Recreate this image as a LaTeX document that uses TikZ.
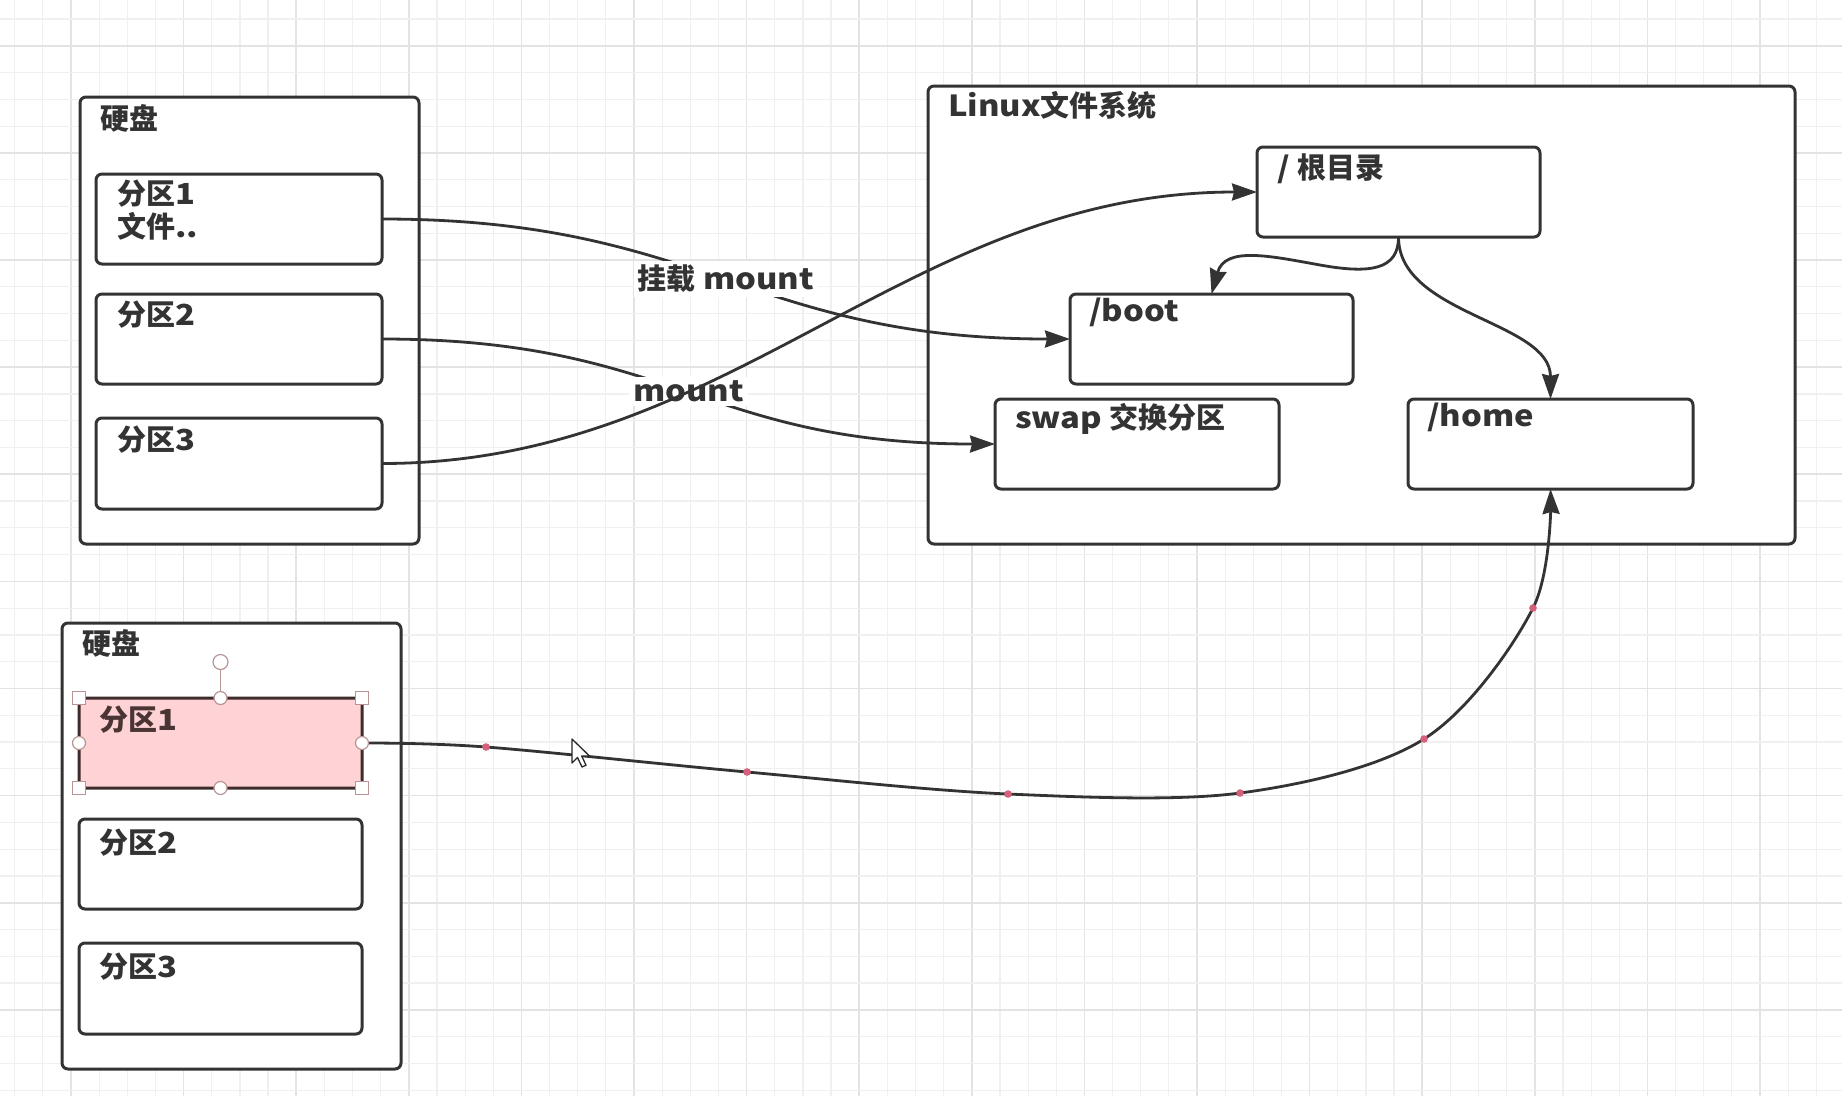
\documentclass[tikz,border=0pt]{standalone}
\usepackage{fontspec}
\setmainfont{Noto Sans CJK SC}[FakeStretch=1.13]
\newfontfamily\cjk{Noto Sans CJK SC}
\usetikzlibrary{arrows.meta,calc}
\definecolor{ink}{HTML}{333333}
\definecolor{gridminor}{HTML}{F0F0F0}
\definecolor{gridmajor}{HTML}{E3E3E3}
\definecolor{pinkfill}{HTML}{FFD2D5}
\definecolor{pinkline}{HTML}{3E2C2C}
\definecolor{pinktext}{HTML}{4A3434}
\definecolor{handle}{HTML}{B89494}
\definecolor{waypt}{HTML}{D4607C}
\begin{document}
\begin{tikzpicture}[x=1pt,y=-1pt,
  box/.style={draw=ink, line width=3pt, rounded corners=6pt, fill=white, inner sep=0pt, outer sep=0pt, anchor=north west},
  txt/.style={anchor=north west, inner sep=0pt, text=ink, font=\fontsize{29}{33}\selectfont\bfseries, align=left},
  conn/.style={draw=ink, line width=2.8pt, -{Stealth[length=25pt,width=17pt,inset=2pt]}},
  elabel/.style={fill=white, inner sep=4pt, text=ink, font=\fontsize{29}{33}\selectfont\bfseries},
  hsq/.style={draw=handle, fill=white, line width=1.2pt, minimum size=13pt, inner sep=0pt},
  hci/.style={draw=handle, fill=white, line width=1.2pt, circle, minimum size=13pt, inner sep=0pt},
  wdot/.style={fill=waypt}
]
\useasboundingbox (0,0) rectangle (1842,1096);
\fill[white] (0,0) rectangle (1842,1096);
% grid
\foreach \i in {-2,...,63} {
  \pgfmathsetmacro\gx{71+28.15*\i}
  \pgfmathtruncatemacro\m{mod(\i+40,4)}
  \ifnum\m=0
    \draw[gridmajor, line width=1.6pt] (\gx,0) -- (\gx,1096);
  \else
    \draw[gridminor, line width=1.2pt] (\gx,0) -- (\gx,1096);
  \fi
}
\foreach \k in {0,...,41} {
  \pgfmathsetmacro\gy{19+26.78*\k}
  \pgfmathtruncatemacro\m{mod(\k+40,4)}
  \ifnum\m=1
    \draw[gridmajor, line width=1.6pt] (0,\gy) -- (1842,\gy);
  \else
    \draw[gridminor, line width=1.2pt] (0,\gy) -- (1842,\gy);
  \fi
}

% top disk
\node[box, minimum width=339pt, minimum height=447pt] (disk1) at (80,97) {};
\node[txt] (disk1t) at ($(disk1.north west)+(20,7)$) {{\cjk 硬盘}};
\node[box, minimum width=286pt, minimum height=90pt] (d1p1) at (96,174) {};
\node[txt] (d1p1t) at ($(d1p1.north west)+(21,6)$) {{\cjk 分区}1\\{\cjk 文件}..};
\node[box, minimum width=286pt, minimum height=90pt] (d1p2) at (96,294) {};
\node[txt] (d1p2t) at ($(d1p2.north west)+(21,7)$) {{\cjk 分区}2};
\node[box, minimum width=286pt, minimum height=91pt] (d1p3) at (96,418) {};
\node[txt] (d1p3t) at ($(d1p3.north west)+(21,8)$) {{\cjk 分区}3};

% linux fs
\node[box, minimum width=867pt, minimum height=458pt] (linux) at (928,86) {};
\node[txt] (linuxt) at ($(linux.north west)+(20,5)$) {Linux{\cjk 文件系统}};
\node[box, minimum width=283pt, minimum height=90pt] (root) at (1257,147) {};
\node[txt] (roott) at ($(root.north west)+(20,6)$) {/ {\cjk 根目录}};
\node[box, minimum width=283pt, minimum height=90pt] (boot) at (1070,294) {};
\node[txt] (boott) at ($(boot.north west)+(19,4)$) {/boot};
\node[box, minimum width=284pt, minimum height=90pt] (swap) at (995,399) {};
\node[txt] (swapt) at ($(swap.north west)+(20,4)$) {swap {\cjk 交换分区}};
\node[box, minimum width=285pt, minimum height=90pt] (home) at (1408,399) {};
\node[txt] (homet) at ($(home.north west)+(19,4)$) {/home};

% connectors top
\draw[conn] (d1p1.east) .. controls +(320,0) and +(-320,0) .. node[elabel, pos=0.5] (lab1) {{\cjk 挂载} mount} (boot.west);
\draw[conn] (d1p2.east) .. controls +(290,0) and +(-290,0) .. node[elabel, pos=0.5] (lab2) {mount} (swap.west);
\draw[conn] (d1p3.east) .. controls +(350,0) and +(-350,0) .. (root.west);
\coordinate (bend) at (1320,265);
\draw[conn] (root.south) .. controls +(0,33) and (1370,274) .. (bend) .. controls (1270,256) and (1225,246) .. (boot.north);
\draw[conn] (root.south) .. controls +(0,78) and +(0,-78) .. (home.north);

% bottom disk
\node[box, minimum width=339pt, minimum height=446pt] (disk2) at (62,623) {};
\node[txt] (disk2t) at ($(disk2.north west)+(20,6)$) {{\cjk 硬盘}};
\node[draw=pinkline, fill=pinkfill, line width=3pt, rounded corners=1.5pt, inner sep=0pt, outer sep=0pt, anchor=north west, minimum width=283pt, minimum height=90pt] (d2p1) at (79,698) {};
\node[txt, text=pinktext] (d2p1t) at ($(d2p1.north west)+(20,8)$) {{\cjk 分区}1};
\node[box, minimum width=283pt, minimum height=90pt] (d2p2) at (79,819) {};
\node[txt] (d2p2t) at ($(d2p2.north west)+(20,10)$) {{\cjk 分区}2};
\node[box, minimum width=283pt, minimum height=91pt] (d2p3) at (79,943) {};
\node[txt] (d2p3t) at ($(d2p3.north west)+(20,10)$) {{\cjk 分区}3};

% bottom connector with waypoints
\coordinate (w1) at (486,747);
\coordinate (w2) at (747,772);
\coordinate (w3) at (1008,794);
\coordinate (w4) at (1240,793);
\coordinate (w5) at (1424,739);
\coordinate (w6) at (1533,608);
\draw[conn] plot[smooth, tension=0.55] coordinates {(d2p1.east) (w1) (w2) (w3) (w4) (w5) (w6) (home.south)};
\foreach \w in {w1,w2,w3,w4,w5,w6} { \fill[wdot] (\w) circle (3.8pt); }

% selection handles
\coordinate (rot) at (220.5,662);
\draw[handle, line width=1.4pt] (d2p1.north) -- (rot);
\node[hci, minimum size=15pt] (roth) at (rot) {};
\node[hsq] (hnw) at (d2p1.north west) {};
\node[hsq] (hne) at (d2p1.north east) {};
\node[hsq] (hsw) at (d2p1.south west) {};
\node[hsq] (hse) at (d2p1.south east) {};
\node[hci] (hn) at (d2p1.north) {};
\node[hci] (hs) at (d2p1.south) {};
\node[hci] (hw) at (d2p1.west) {};
\node[hci] (he) at (d2p1.east) {};

% mouse cursor
\draw[fill=white, draw=black!85, line width=1.3pt, line join=round]
  (572,739) -- ++(0,24) -- ++(5.5,-5.5) -- ++(4.5,9.5) -- ++(4,-1.8) -- ++(-4.3,-9.2) -- ++(7.8,0) -- cycle;
\end{tikzpicture}
\end{document}
